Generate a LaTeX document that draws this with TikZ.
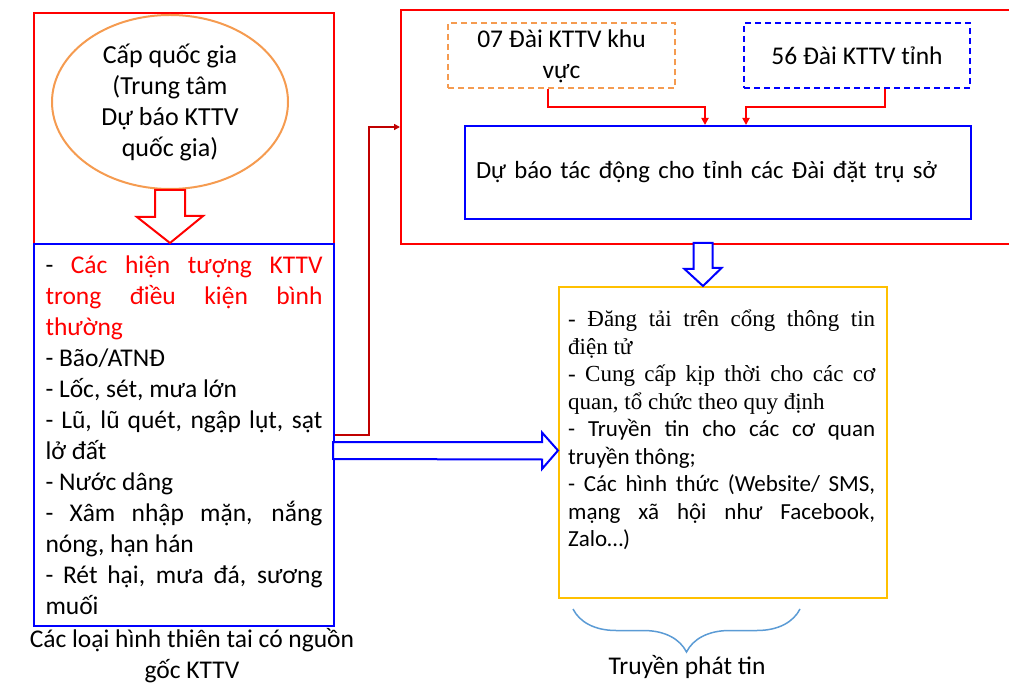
\documentclass[tikz,border=0pt]{standalone}
\usepackage{fontspec}
\setmainfont{Carlito}
\newfontfamily\serifvn{Liberation Serif}
\usetikzlibrary{arrows.meta,positioning,calc,shapes.geometric,decorations.pathreplacing}
\definecolor{kred}{RGB}{255,0,0}
\definecolor{kblue}{RGB}{0,0,255}
\definecolor{korange}{RGB}{245,155,80}
\definecolor{kdarkred}{RGB}{192,0,0}
\definecolor{kyellow}{RGB}{255,192,0}
\definecolor{kbrace}{RGB}{91,155,213}
\hyphenpenalty=10000

\begin{document}
\begin{tikzpicture}[
    x=1pt, y=-1pt,
    redframe/.style={draw=kred,line width=2pt,inner sep=0pt},
    bluebox/.style={draw=kblue,line width=2pt},
    dashbox/.style={line width=2pt,dash pattern=on 6pt off 4pt,minimum width=227,minimum height=65,align=center,font=\fontsize{25.5}{31}\selectfont},
    hollowred/.style={draw=kred,fill=white,line width=2pt,line join=miter},
    hollowblue/.style={draw=kblue,fill=white,line width=2pt,line join=miter},
    redarrow/.style={draw=kred,line width=2pt,-{Triangle[length=7pt,width=7pt]}},
    feedline/.style={draw=kdarkred,line width=2pt,-{Triangle[length=6pt,width=6pt]}},
    bigfont/.style={font=\fontsize{25.5}{31}\selectfont}
]
    \useasboundingbox (0,0) rectangle (1009,684);

    % National level
    \node[redframe, minimum width=300, minimum height=231, anchor=north west] (natbox) at (33,12) {};
    \node[ellipse, draw=korange, line width=2pt, inner sep=0pt, minimum width=236, minimum height=174,
          align=center, font=\fontsize{26}{31}\selectfont] (natl) at (170,102)
          {Cấp quốc gia\\(Trung tâm\\Dự báo KTTV\\quốc gia)};

    % Hazard types
    \node[bluebox, bigfont, anchor=north west, minimum height=382, text width=277, inner xsep=11.5,
          inner ysep=0pt, align=justify] (kinds) at (33,243)
          {- \textcolor{kred}{Các hiện tượng KTTV\linebreak trong điều kiện bình\linebreak thường}\par
           - Bão/ATNĐ\par
           - Lốc, sét, mưa lớn\par
           - Lũ, lũ quét, ngập lụt, sạt\linebreak lở đất\par
           - Nước dâng\par
           - Xâm nhập mặn, nắng\linebreak nóng, hạn hán\par
           - Rét hại, mưa đá, sương\linebreak muối};
    \node[bigfont, align=center] (kindslbl) at (192,656) {Các loại hình thiên tai có nguồn\\gốc KTTV};

    % Hollow arrow down
    \draw[hollowred] ([xshift=-15]natl.south) -- ++(0,27) -- ++(-18,0) -- (natl.south |- kinds.north)
        -- ++(33,-27) -- ++(-18,0) -- ([xshift=15]natl.south) -- cycle;

    % Regional and provincial stations
    \node[redframe, minimum width=620, minimum height=234, anchor=north west] (stations) at (400,9) {};
    \node[dashbox, draw=korange] (reg) at (561.5,56) {07 Đài KTTV khu\\vực};
    \node[dashbox, draw=kblue, minimum width=226] (prov) at (857,55.5) {56 Đài KTTV tỉnh};
    \node[bluebox, anchor=north west, minimum height=93, text width=484, inner xsep=11, align=left,
          font=\fontsize{24.7}{30}\selectfont] (fcst) at (464,125) {\mbox{Dự báo tác động cho tỉnh các Đài đặt trụ sở}};

    \draw[redarrow] ([xshift=-13.5]reg.south) -- ++(0,18) -| ([xshift=-13]fcst.north);
    \draw[redarrow] ([xshift=28]prov.south) -- ++(0,18) -| ([xshift=28]fcst.north);

    % Link to stations
    \draw[feedline] (kinds.east) -- ++(34,0) |- (stations.west);

    % Dissemination
    \node[draw=kyellow, line width=2pt, minimum width=328, minimum height=311, anchor=north west] (spread) at (558,286) {};
    \node[anchor=north west, text width=307, inner sep=0pt, align=justify,
          font=\fontsize{23}{27.5}\selectfont] (spreadtxt) at (568,310)
          {{\serifvn - Đăng tải trên cổng thông tin\linebreak điện tử\par
           - Cung cấp kịp thời cho các cơ\linebreak quan, tổ chức theo quy định\par}
           - Truyền tin cho các cơ quan\linebreak truyền thông;\par
           - Các hình thức (Website/ SMS,\linebreak mạng xã hội như Facebook,\linebreak Zalo…)};

    % Hollow arrow down to dissemination
    \coordinate (dn) at (703,243);
    \draw[hollowblue] ([xshift=-9.5]dn) -- ++(0,26) -- ++(-9,0) -- (dn |- spread.north)
        -- ++(18.5,-18) -- ++(-9,0) -- ([xshift=9.5]dn) -- cycle;

    % Hollow arrow right
    \coordinate (rt) at (333,450.5);
    \draw[hollowblue] ([yshift=8.5]rt) -- ++(209,0) -- ++(0,-9.5) -- (rt -| spread.west)
        -- ++(-16,18.5) -- ++(0,-9.5) -- ([yshift=-8.5]rt) -- cycle;

    % Brace
    \draw[kbrace, line width=1.5pt, decorate, decoration={brace, mirror, amplitude=43pt}]
        ($(spread.south west)+(15,10)$) -- ($(spread.south west)+(242,10)$);
    \node[bigfont] (spreadlbl) at (687,667) {Truyền phát tin};
\end{tikzpicture}
\end{document}
